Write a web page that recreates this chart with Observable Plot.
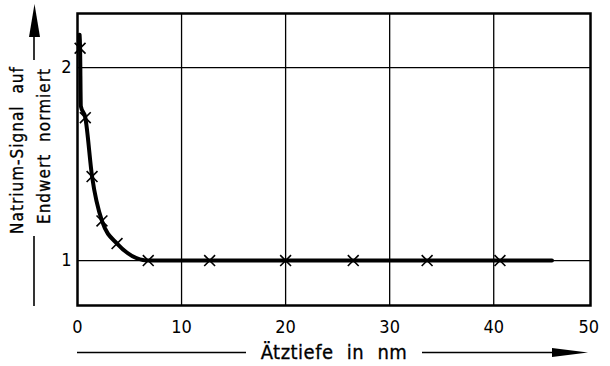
<!DOCTYPE html>
<html>
<head>
<meta charset="utf-8">
<script src="https://cdn.jsdelivr.net/npm/d3@7"></script>
<script src="https://cdn.jsdelivr.net/npm/@observablehq/plot@0.6"></script>
<style>
  html, body { margin: 0; padding: 0; background: #fff; }
  svg { display: block; }
</style>
</head>
<body>
<div id="chart"></div>
<script>
// Measured points (x markers)
const markerDepth  = [0.25, 0.75, 1.4, 2.35, 3.8, 6.8, 12.7, 20.0, 26.5, 33.6, 40.6];
const markerSignal = [2.10, 1.74, 1.435, 1.205, 1.088, 1.0, 1.0, 1.0, 1.0, 1.0, 1.0];
// Drawn curve
const curveDepth  = [0.2, 0.25, 0.32, 0.75, 1.4, 2.35, 3.8, 6.8, 45.6];
const curveSignal = [2.17, 2.10, 1.80, 1.74, 1.435, 1.205, 1.088, 1.0, 1.0];
// Axes
const xTicks = [0, 10, 20, 30, 40];
const xTickLast = [50];
const yTicks = [1, 2];
const xLabel = "Ätztiefe in nm";
const yLabel1 = "Natrium-Signal auf";
const yLabel2 = "Endwert normiert";

const markers = markerDepth.map((d, i) => ({x: d, y: markerSignal[i]}));
const curve = curveDepth.map((d, i) => ({x: d, y: curveSignal[i]}));

const font = "'DejaVu Sans Condensed', 'DejaVu Sans', sans-serif";
const tickStyle = {tickSize: 0, fontSize: 18, label: null, tickFormat: d => String(d), stroke: "#000", strokeWidth: 0.3};

const plot = Plot.plot({
  width: 610,
  height: 366,
  marginLeft: 77,
  marginRight: 20,
  marginTop: 13,
  marginBottom: 61,
  style: {fontFamily: font, background: "#fff", color: "#000"},
  x: {domain: [0, 49.3]},
  y: {domain: [0.767, 2.28]},
  marks: [
    Plot.gridX([10, 20, 30, 40], {stroke: "#000", strokeOpacity: 1, strokeWidth: 1.3}),
    Plot.gridY(yTicks, {stroke: "#000", strokeOpacity: 1, strokeWidth: 1.3}),
    Plot.line(curve, {x: "x", y: "y", curve: "monotone-x", stroke: "#000", strokeWidth: 4, strokeLinecap: "round"}),
    Plot.dot(markers, {x: "x", y: "y", symbol: "times", r: 5, stroke: "#000", strokeWidth: 1.6, fill: "none"}),
    Plot.frame({stroke: "#000", strokeWidth: 2.5}),
    Plot.axisX(xTicks, {...tickStyle, tickPadding: 15}),
    Plot.axisX(xTickLast, {...tickStyle, tickPadding: 15, dx: -9}),
    Plot.axisY(yTicks, {...tickStyle, tickPadding: 6})
  ]
});

document.getElementById("chart").appendChild(plot);

// Decorative axis arrows and labels
const svg = d3.select(plot);
const g = svg.append("g").attr("fill", "#000").attr("stroke", "#000");

function label(sel, size, ls, ws) {
  return sel.attr("text-anchor", "middle").attr("stroke", "#000").attr("stroke-width", 0.3)
    .attr("font-family", font).attr("font-size", size)
    .attr("letter-spacing", ls).attr("word-spacing", ws);
}

// x axis arrow
g.append("line").attr("x1", 77).attr("x2", 246).attr("y1", 352.5).attr("y2", 352.5).attr("stroke-width", 1.6);
g.append("line").attr("x1", 422).attr("x2", 560).attr("y1", 352.5).attr("y2", 352.5).attr("stroke-width", 1.6);
g.append("path").attr("d", "M552,348 L588,352.5 L552,357 Z").attr("stroke", "none");
label(g.append("text").attr("x", 334).attr("y", 358.5), 20, 0.5, 7).text(xLabel);

// y axis arrow
g.append("line").attr("x1", 34).attr("x2", 34).attr("y1", 306).attr("y2", 236).attr("stroke-width", 1.6);
g.append("line").attr("x1", 34).attr("x2", 34).attr("y1", 60).attr("y2", 34).attr("stroke-width", 1.6);
g.append("path").attr("d", "M29,37 L34.5,4 L40,37 Z").attr("stroke", "none");
label(g.append("text").attr("transform", "translate(23,150) rotate(-90)"), 17, 1, 6).text(yLabel1);
label(g.append("text").attr("transform", "translate(49.5,146) rotate(-90)"), 17, 1, 6).text(yLabel2);
</script>
</body>
</html>
